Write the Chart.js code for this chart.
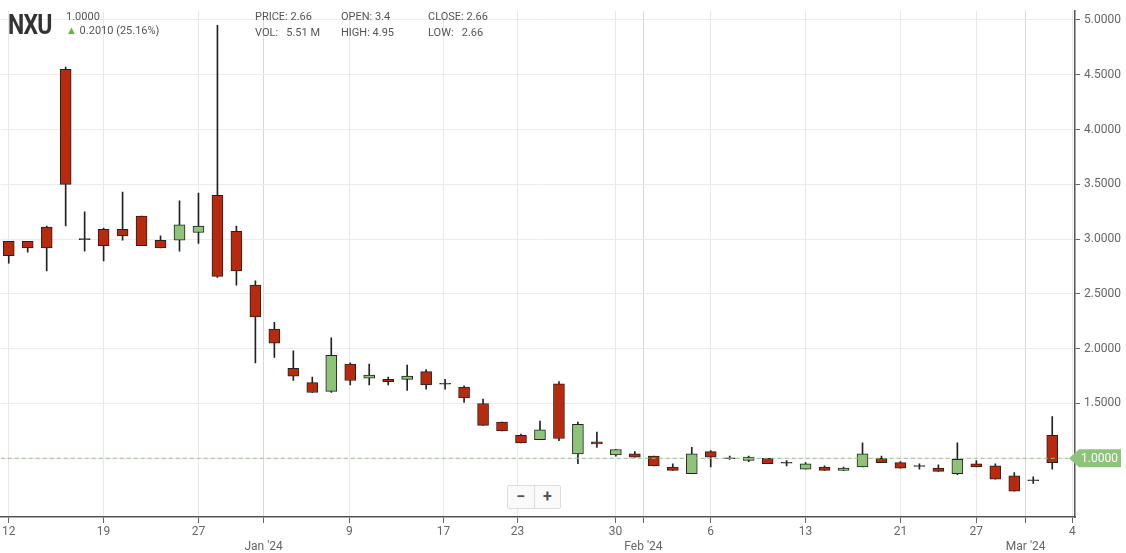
<!DOCTYPE html>
<html>
<head>
<meta charset="utf-8">
<script src="https://cdn.jsdelivr.net/npm/chart.js@4.4.1/dist/chart.umd.min.js"></script>
<style>
  body { margin: 0; background: #fff; font-family: Roboto, sans-serif; }
  #wrap { position: relative; width: 1126px; height: 553px; }
  #chart { position: absolute; left: 0; top: 0; }
  .hd { position: absolute; color: #555; font-size: 11px; }
  #sym { position: absolute; left: 8px; top: 8px; font: bold 28px Roboto, sans-serif; color: #333; letter-spacing: -1px; transform: scaleX(0.82); transform-origin: left; }
  #zoom { position: absolute; left: 507px; top: 485px; width: 52px; height: 22px; border: 1px solid #ddd; border-radius: 2px; background: #fafafa; font: bold 16px Roboto, sans-serif; color: #555; display: flex; }
  #zoom span { flex: 1; text-align: center; line-height: 21px; }
</style>
</head>
<body>
<div id="wrap">
  <canvas id="chart" width="1126" height="553"></canvas>
  <div id="sym">NXU</div>
  <div class="hd" style="left:66px;top:10px">1.0000</div>
  <div class="hd" style="left:66px;top:24px"><span style="color:#6ab04c">&#9650;</span> 0.2010 (25.16%)</div>
  <div class="hd" style="left:255px;top:10px">PRICE: 2.66</div>
  <div class="hd" style="left:255px;top:26px">VOL:&nbsp;&nbsp; 5.51 M</div>
  <div class="hd" style="left:341px;top:10px">OPEN: 3.4</div>
  <div class="hd" style="left:341px;top:26px">HIGH: 4.95</div>
  <div class="hd" style="left:428px;top:10px">CLOSE: 2.66</div>
  <div class="hd" style="left:428px;top:26px">LOW:&nbsp;&nbsp; 2.66</div>
  <div id="zoom"><span>&minus;</span><span style="border-left:1px solid #ddd">+</span></div>
</div>
<script>
const opens  = [2.98,2.98,3.11,4.55,3.00,3.09,3.09,3.21,2.99,2.99,3.06,3.40,3.07,2.58,2.18,1.82,1.69,1.61,1.86,1.73,1.72,1.72,1.79,1.68,1.65,1.50,1.33,1.21,1.17,1.68,1.04,1.15,1.03,1.04,1.02,0.92,0.86,1.06,1.00,0.98,1.00,0.96,0.90,0.92,0.89,0.92,1.00,0.96,0.93,0.91,0.86,0.95,0.93,0.84,0.80,1.21];
const highs  = [2.98,2.98,3.12,4.57,3.25,3.10,3.43,3.21,3.03,3.35,3.42,4.95,3.12,2.62,2.24,1.98,1.74,2.10,1.87,1.86,1.74,1.85,1.81,1.72,1.66,1.54,1.33,1.22,1.34,1.70,1.33,1.24,1.08,1.06,1.02,0.95,1.10,1.07,1.02,1.02,1.00,0.98,0.96,0.93,0.92,1.14,1.02,0.97,0.95,0.94,1.14,0.98,0.95,0.87,0.83,1.38];
const lows   = [2.78,2.88,2.71,3.12,2.89,2.80,2.99,2.94,2.92,2.89,2.96,2.65,2.58,1.87,1.92,1.71,1.60,1.60,1.67,1.67,1.67,1.62,1.63,1.63,1.51,1.30,1.25,1.14,1.17,1.16,0.95,1.10,1.02,1.01,0.93,0.89,0.86,0.92,0.99,0.97,0.95,0.93,0.90,0.89,0.89,0.92,0.96,0.91,0.90,0.88,0.85,0.92,0.81,0.70,0.77,0.90];
const closes = [2.85,2.92,2.92,3.50,3.00,2.94,3.03,2.94,2.92,3.13,3.12,2.66,2.71,2.29,2.05,1.75,1.60,1.94,1.71,1.76,1.70,1.75,1.67,1.68,1.55,1.30,1.25,1.14,1.26,1.18,1.31,1.13,1.08,1.01,0.93,0.89,1.04,1.01,1.00,1.01,0.95,0.96,0.95,0.89,0.91,1.04,0.96,0.91,0.93,0.88,0.99,0.92,0.81,0.70,0.80,0.96];
// x axis labels at trading-day positions
const tickPos    = [0, 5, 10, 13.43, 17.96, 22.92, 26.82, 31.98, 33.45, 37, 42, 47, 51, 53.6, 56.06];
const tickLabels = ['12','19','27',"Jan '24",'9','17','23','30',"Feb '24",'6','13','21','27',"Mar '24",'4'];
const yTicks = [1.0, 1.5, 2.0, 2.5, 3.0, 3.5, 4.0, 4.5, 5.0];
const lastPrice = 1.0;

const RED = '#b82a0e', GREEN = '#8dc47a';
const isMonth = l => l.includes("'");

const bodies = opens.map((o, i) => {
  const c = closes[i];
  return { x: i, y: o === c ? [o - 0.004, o + 0.004] : [Math.min(o, c), Math.max(o, c)] };
});
const bodyColors = opens.map((o, i) => o === closes[i] ? '#333' : (closes[i] > o ? GREEN : RED));
const wicks = highs.map((h, i) => ({ x: i, y: [lows[i], h] }));

const lastLine = {
  id: 'lastLine',
  afterDatasetsDraw(chart) {
    const { ctx, chartArea, scales } = chart;
    const y = scales.y.getPixelForValue(lastPrice);
    ctx.save();
    ctx.strokeStyle = '#9bbf8c'; ctx.setLineDash([4, 3]); ctx.lineWidth = 1;
    ctx.beginPath(); ctx.moveTo(chartArea.left, y); ctx.lineTo(chartArea.right, y); ctx.stroke();
    ctx.setLineDash([]);
    const x0 = chartArea.right - 6;
    ctx.fillStyle = GREEN;
    ctx.beginPath();
    ctx.moveTo(x0, y); ctx.lineTo(x0 + 10, y - 9); ctx.lineTo(1121, y - 9);
    ctx.lineTo(1121, y + 9); ctx.lineTo(x0 + 10, y + 9); ctx.closePath(); ctx.fill();
    ctx.fillStyle = '#fff'; ctx.font = '12px Roboto'; ctx.textAlign = 'right'; ctx.textBaseline = 'middle';
    ctx.fillText(lastPrice.toFixed(4), 1118, y + 1);
    ctx.restore();
  }
};

new Chart(document.getElementById('chart'), {
  type: 'bar',
  data: {
    datasets: [
      { data: wicks, backgroundColor: '#222', barThickness: 1, grouped: false, order: 2 },
      { data: bodies, backgroundColor: bodyColors, borderColor: '#222', borderWidth: 1,
        borderSkipped: false, barThickness: 11, grouped: false, order: 1 }
    ]
  },
  options: {
    responsive: false,
    animation: false,
    layout: { padding: 0 },
    plugins: { legend: { display: false }, tooltip: { enabled: false } },
    scales: {
      x: {
        type: 'linear', min: -0.42, max: 56.2, offset: false,
        afterBuildTicks: s => { s.ticks = tickPos.map(v => ({ value: v })); },
        afterFit: s => { s.height = 36; },
        ticks: {
          autoSkip: false, maxRotation: 0, color: '#666', padding: 2,
          font: { family: 'Roboto', size: 12 },
          callback: (v, i) => isMonth(tickLabels[i]) ? ['', tickLabels[i]] : tickLabels[i]
        },
        grid: { offset: false, color: c => isMonth(tickLabels[c.index] || '') ? '#d8d8d8' : '#e8e8e8',
                tickColor: '#666', tickLength: 6 },
        border: { color: '#555', width: 1.5 }
      },
      y: {
        position: 'right', min: 0.464, max: 5.08,
        afterBuildTicks: s => { s.ticks = yTicks.map(v => ({ value: v })); },
        afterFit: s => { s.width = 51; },
        ticks: { color: '#666', font: { family: 'Roboto', size: 12 }, padding: 4,
                 callback: v => v.toFixed(4) },
        grid: { color: '#ececec', tickColor: '#666', tickLength: 5 },
        border: { color: '#555', width: 1.5 }
      }
    }
  },
  plugins: [lastLine]
});
</script>
</body>
</html>
